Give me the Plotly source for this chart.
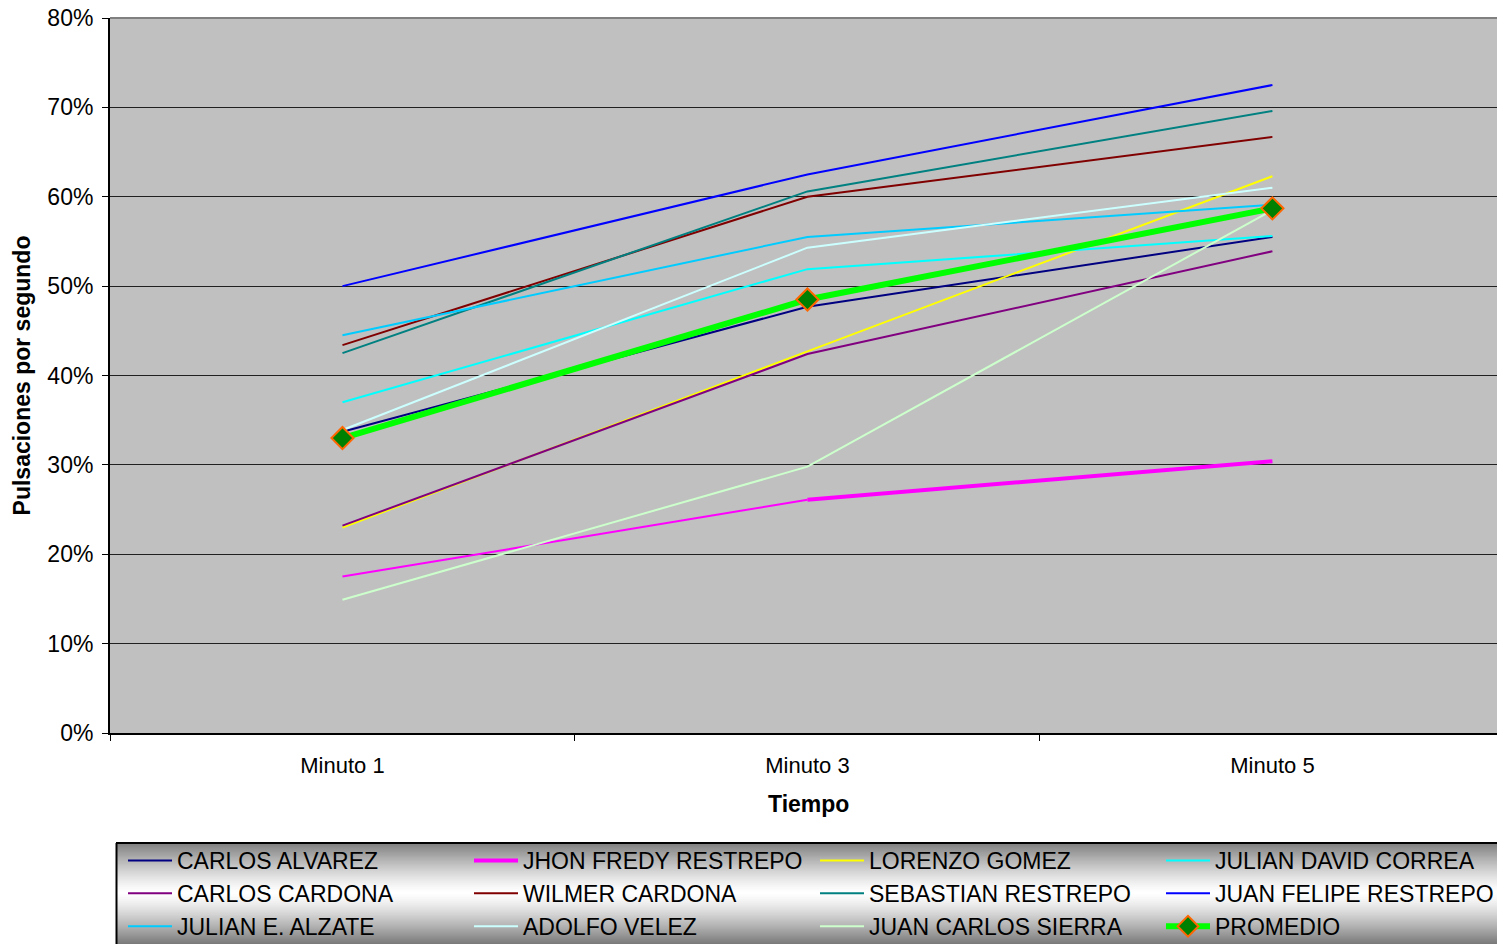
import plotly.graph_objects as go

categories = ["Minuto 1", "Minuto 3", "Minuto 5"]

carlos_alvarez = [33.7, 47.7, 55.5]
jhon_fredy_restrepo = [17.5, 26.1, 30.4]
lorenzo_gomez = [23.0, 42.7, 62.3]
julian_david_correa = [37.0, 51.9, 55.6]
carlos_cardona = [23.2, 42.4, 53.9]
wilmer_cardona = [43.4, 60.0, 66.7]
sebastian_restrepo = [42.5, 60.6, 69.6]
juan_felipe_restrepo = [50.0, 62.5, 72.5]
julian_e_alzate = [44.5, 55.5, 59.1]
adolfo_velez = [33.9, 54.3, 61.0]
juan_carlos_sierra = [14.9, 29.8, 58.5]
promedio = [33.0, 48.5, 58.7]

y_ticks = [0, 10, 20, 30, 40, 50, 60, 70, 80]
y_tick_labels = ["0%", "10%", "20%", "30%", "40%", "50%", "60%", "70%", "80%"]

series = [
    ("CARLOS ALVAREZ", carlos_alvarez, "#000080"),
    ("JHON FREDY RESTREPO", jhon_fredy_restrepo, "#FF00FF"),
    ("LORENZO GOMEZ", lorenzo_gomez, "#FFFF00"),
    ("JULIAN DAVID CORREA", julian_david_correa, "#00FFFF"),
    ("CARLOS CARDONA", carlos_cardona, "#800080"),
    ("WILMER CARDONA", wilmer_cardona, "#800000"),
    ("SEBASTIAN RESTREPO", sebastian_restrepo, "#008080"),
    ("JUAN FELIPE RESTREPO", juan_felipe_restrepo, "#0000FF"),
    ("JULIAN E. ALZATE", julian_e_alzate, "#00CCFF"),
    ("ADOLFO VELEZ", adolfo_velez, "#CCFFFF"),
    ("JUAN CARLOS SIERRA", juan_carlos_sierra, "#CCFFCC"),
]

fig = go.Figure()
for name, vals, color in series:
    if name == "JHON FREDY RESTREPO":
        fig.add_trace(go.Scatter(x=categories[:2], y=vals[:2], mode="lines", name=name,
                                 line=dict(color=color, width=2), showlegend=False,
                                 hoverinfo="skip"))
        fig.add_trace(go.Scatter(x=categories[1:], y=vals[1:], mode="lines", name=name,
                                 line=dict(color=color, width=4)))
    else:
        fig.add_trace(go.Scatter(x=categories, y=vals, mode="lines", name=name,
                                 line=dict(color=color, width=2)))

fig.add_trace(go.Scatter(x=categories, y=promedio, mode="lines+markers", name="PROMEDIO",
                         line=dict(color="#00FF00", width=6),
                         marker=dict(symbol="diamond", size=17, color="#008000",
                                     line=dict(color="#FF6600", width=2))))

# plot geometry in px
L, T, B, W, H = 110, 18, 211, 1497, 944
pw = W - L
ph = H - T - B

def py(p):
    return (H - B - p) / ph

def px(p):
    return (p - L) / pw

shapes = []
# legend gradient background
lt, lb = 843, 950
n = 107
for i in range(n):
    y0p = lt + (lb - lt) * i / n
    y1p = lt + (lb - lt) * (i + 1) / n
    mid = (y0p + y1p) / 2
    center = 893
    d = abs(mid - center) / 52.0
    d = min(d, 1.0)
    g = int(round(255 - (255 - 118) * d ** 1.3))
    col = "rgb(%d,%d,%d)" % (g, g, g)
    shapes.append(dict(type="rect", xref="paper", yref="paper", x0=px(116), x1=px(1510),
                       y0=py(y1p) - 0.0005, y1=py(y0p) + 0.0005, fillcolor=col,
                       line=dict(width=0), layer="below"))
shapes.append(dict(type="line", xref="paper", yref="paper", x0=px(116), x1=px(1510),
                   y0=py(lt), y1=py(lt), line=dict(color="black", width=2)))
shapes.append(dict(type="line", xref="paper", yref="paper", x0=px(116.5), x1=px(116.5),
                   y0=py(lt), y1=py(lb), line=dict(color="black", width=2)))
# top border of plot area
shapes.append(dict(type="line", xref="paper", yref="paper", x0=0, x1=1, y0=1, y1=1,
                   line=dict(color="#808080", width=2)))

font = "Liberation Sans, Arial, sans-serif"

fig.update_layout(
    width=W, height=H,
    margin=dict(l=L, r=0, t=T, b=B, pad=0, autoexpand=False),
    paper_bgcolor="white",
    plot_bgcolor="#C0C0C0",
    font=dict(family=font, size=22, color="black"),
    shapes=shapes,
    showlegend=True,
    legend=dict(orientation="h", x=px(123), y=py(839), xanchor="left", yanchor="top",
                bgcolor="rgba(0,0,0,0)", borderwidth=0, entrywidth=287,
                itemwidth=44, font=dict(family=font, size=23, color="black"),
                traceorder="normal", itemclick=False),
    annotations=[dict(text="<b>Tiempo</b>", xref="paper", yref="paper", x=px(808), y=py(804),
                      xanchor="center", yanchor="middle", showarrow=False,
                      font=dict(family=font, size=23, color="black"))],
    xaxis=dict(type="category", categoryorder="array", categoryarray=categories,
               range=[-0.5, 2.483], tickson="boundaries", ticks="outside", ticklen=6,
               tickcolor="black", showline=True, linecolor="black", linewidth=2,
               showgrid=False, zeroline=False, tickfont=dict(size=22),
               ticklabelstandoff=12),
    yaxis=dict(range=[0, 80], tickmode="array", tickvals=y_ticks, ticktext=y_tick_labels,
               ticks="outside", ticklen=6,
               tickcolor="black", showline=True, linecolor="black", linewidth=2,
               showgrid=True, gridcolor="#202020", gridwidth=1, zeroline=False,
               tickfont=dict(size=23), ticklabelstandoff=4,
               title=dict(text="<b>Pulsaciones por segundo</b>", font=dict(size=23), standoff=10)),
)

fig.write_html("out.html")
